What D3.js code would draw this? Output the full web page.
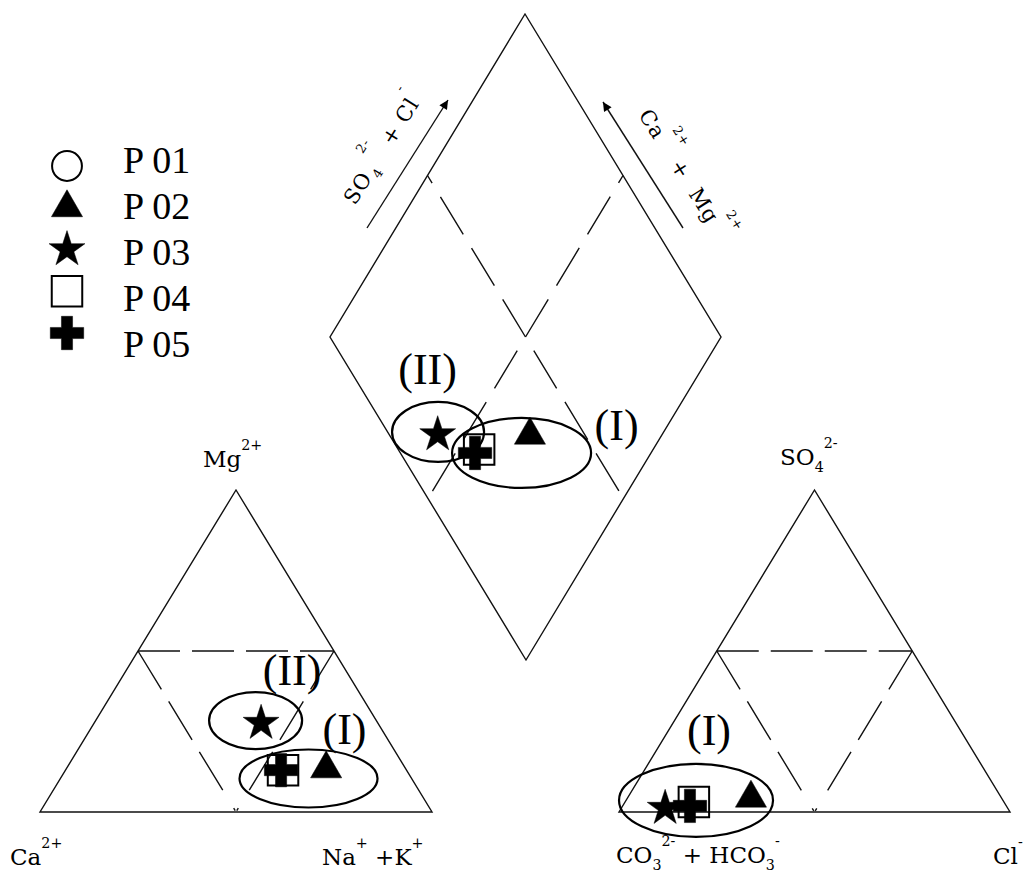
<!DOCTYPE html>
<meta charset="utf-8">
<script src="https://d3js.org/d3.v7.min.js"></script>
<style>
  body { margin: 0; background: #fff; }
  text { white-space: pre; }
</style>
<div id="chart"></div>
<script>

// samples, legend order
var samples = ["P 01", "P 02", "P 03", "P 04", "P 05"];
var symbolNames = ["circle", "triangle", "star", "square", "cross"];

// cations (% meq/l) - P 01 has no point on the figure
var caPct  = [null, 20.3, 29.8, 31.5, 32.0];
var mgPct  = [null, 13.4, 27.6, 13.0, 13.0];
var naKPct = [null, 66.3, 42.6, 55.5, 55.0];

// anions (% meq/l)
var hco3Pct = [null, 64.1, 87.6, 79.3, 80.9];
var so4Pct  = [null,  4.3,  1.2,  3.1,  1.9];
var clPct   = [null, 31.6, 11.2, 17.6, 17.2];

// circled groups: centre given in the panel's own percentages
// cation: (Na+K, Mg)   diamond: (SO4+Cl, Ca+Mg)   anion: (Cl, SO4)
var groupNames  = ["(II)", "(I)", "(II)", "(I)", "(I)"];
var groupPanels = ["cation", "cation", "diamond", "diamond", "anion"];
var groupU = [40.8, 63.3, 12.9, 31.0, 17.9];
var groupV = [28.4, 10.4, 57.7, 33.1, 3.6];

// ---- layout ----
var width = 1024, height = 875;
var svg = d3.select("#chart").append("svg")
    .attr("width", width).attr("height", height)
    .style("font-family", "'DejaVu Serif', serif");

var xCat = d3.scaleLinear().domain([0, 100]).range([40, 432]);
var xAn  = d3.scaleLinear().domain([0, 100]).range([619, 1010]);
var yTri = d3.scaleLinear().domain([0, 100]).range([812, 490]);

// diamond: from the bottom corner, SO4+Cl goes up-right, Ca+Mg goes up-left
var dBottom = [526, 660];
var dRight = d3.scaleLinear().domain([0, 100]).range([0, 195]);
var dLeft  = d3.scaleLinear().domain([0, 100]).range([0, 196]);
var dUp    = d3.scaleLinear().domain([0, 100]).range([0, 323]);

function catPos(naK, mg) { return [xCat(naK + mg / 2), yTri(mg)]; }
function anPos(cl, so4) { return [xAn(cl + so4 / 2), yTri(so4)]; }
function dmdPos(a, c) { return [dBottom[0] + dRight(a) - dLeft(c), dBottom[1] - dUp(a + c)]; }
var panelPos = { cation: catPos, anion: anPos, diamond: dmdPos };

var line = d3.line();
var edgeStyle = function(s) { return s.attr("fill", "none").attr("stroke", "#111").attr("stroke-width", 1.4); };
var dashStyle = function(s, dash) {
  return s.attr("fill", "none").attr("stroke", "#111").attr("stroke-width", 1.4).attr("stroke-dasharray", dash || "44,16");
};

// triangles
[catPos, anPos].forEach(function(P) {
  svg.append("path").attr("d", line([P(0, 0), P(100, 0), P(0, 100)]) + "Z").call(edgeStyle);
  svg.append("path").attr("d", line([P(0, 50), P(50, 50)])).call(dashStyle, "42,12");
  svg.append("path").attr("d", line([P(0, 50), P(50, 0)])).call(dashStyle, "45,14,45,14,45,21,3,40");
  svg.append("path").attr("d", line([P(50, 50), P(50, 0)])).call(dashStyle, "45,14,45,14,45,21,3,40");
});

// diamond
svg.append("path").attr("d", line([dmdPos(0, 0), dmdPos(100, 0), dmdPos(100, 100), dmdPos(0, 100)]) + "Z").call(edgeStyle);
svg.append("path").attr("d", line([dmdPos(50, 50), dmdPos(50, 100)])).call(dashStyle);
svg.append("path").attr("d", line([dmdPos(50, 50), dmdPos(100, 50)])).call(dashStyle);
svg.append("path").attr("d", line([dmdPos(50, 50), dmdPos(50, 0)])).call(dashStyle).attr("stroke-dashoffset", 44);
svg.append("path").attr("d", line([dmdPos(50, 50), dmdPos(0, 50)])).call(dashStyle).attr("stroke-dashoffset", 44);

// arrows beside the diamond
svg.append("defs").append("marker")
    .attr("id", "head").attr("viewBox", "0 0 10 10").attr("refX", 10).attr("refY", 5)
    .attr("markerWidth", 12).attr("markerHeight", 9).attr("markerUnits", "userSpaceOnUse")
    .attr("orient", "auto")
  .append("path").attr("d", "M0,0L10,5L0,10Z").attr("fill", "#000");
svg.append("line").attr("x1", 367).attr("y1", 228).attr("x2", 448).attr("y2", 100)
    .attr("stroke", "#111").attr("stroke-width", 1.4).attr("marker-end", "url(#head)");
svg.append("line").attr("x1", 683).attr("y1", 228).attr("x2", 603).attr("y2", 102)
    .attr("stroke", "#111").attr("stroke-width", 1.4).attr("marker-end", "url(#head)");

// text with sub / superscripts; part = [text, "sup"|"sub", dx]
function richText(sel, parts, size, supShift) {
  var t = sel.append("text").attr("font-size", size).attr("fill", "#000");
  var shift = 0;
  parts.forEach(function(p) {
    var s = p[1] === "sup" ? -supShift * size : p[1] === "sub" ? 0.3 * size : 0;
    t.append("tspan").attr("dy", s - shift).attr("dx", p[2] || 0)
      .attr("font-size", p[1] ? size * 0.62 : size).text(p[0]);
    shift = s;
  });
  return t;
}

var axisLabels = [
  { x: 203, y: 467, parts: [["Mg"], ["2+", "sup"]] },
  { x: 10, y: 865, parts: [["Ca"], ["2+", "sup"]] },
  { x: 322, y: 865, parts: [["Na"], ["+", "sup"], [" +K"], ["+", "sup"]] },
  { x: 780, y: 465, parts: [["SO"], ["4", "sub"], ["2-", "sup"]] },
  { x: 616, y: 863, parts: [["CO"], ["3", "sub"], ["2-", "sup"], [" + HCO"], ["3", "sub"], ["-", "sup"]] },
  { x: 993, y: 864, parts: [["Cl"], ["-", "sup"]] }
];
axisLabels.forEach(function(l) {
  richText(svg.append("g").attr("transform", "translate(" + l.x + "," + l.y + ")"), l.parts, 23, 0.72);
});

richText(svg.append("g").attr("transform", "translate(355,206) rotate(-57.7)"),
  [["SO"], ["4", "sub", 2], ["2-", "sup", 3], [" + Cl"], ["-", "sup"]], 21, 1.0)
  .attr("letter-spacing", 1);
richText(svg.append("g").attr("transform", "translate(638,115) rotate(57.6)"),
  [["Ca"], ["2+", "sup"], [" + "], [" Mg"], ["2+", "sup"]], 21, 1.0)
  .attr("letter-spacing", 1);

// symbols
var symType = { circle: d3.symbolCircle, triangle: d3.symbolTriangle, star: d3.symbolStar, square: d3.symbolSquare, cross: d3.symbolCross };
var symSize = { circle: 700, triangle: 420, star: 400, square: 930, cross: 620 };
function drawSymbol(sel, name) {
  var hollow = name === "circle" || name === "square";
  return sel.append("path")
    .attr("d", d3.symbol().type(symType[name]).size(symSize[name])())
    .attr("fill", hollow ? "none" : "#000")
    .attr("stroke", "#000").attr("stroke-width", hollow ? 2 : 0.5);
}

// group ellipses
var ellipseR = [[46.5, 28.5], [69, 29], [46, 30], [69.5, 35], [77, 36.5]];
var labelOff = [[36.5, -35.5], [36, -34.5], [-10.5, -48], [95, -13], [13, -55.5]];
groupNames.forEach(function(name, i) {
  var c = panelPos[groupPanels[i]](groupU[i], groupV[i]);
  svg.append("ellipse").attr("cx", c[0]).attr("cy", c[1])
    .attr("rx", ellipseR[i][0]).attr("ry", ellipseR[i][1])
    .attr("fill", "none").attr("stroke", "#000").attr("stroke-width", 2.2);
  svg.append("text").attr("x", c[0] + labelOff[i][0]).attr("y", c[1] + labelOff[i][1])
    .attr("text-anchor", "middle").attr("font-family", "'Liberation Serif', serif")
    .attr("font-size", 44).text(name);
});

// sample points in the three fields
samples.forEach(function(s, i) {
  if (caPct[i] == null) return;
  var pts = [
    catPos(naKPct[i], mgPct[i]),
    anPos(clPct[i], so4Pct[i]),
    dmdPos(so4Pct[i] + clPct[i], caPct[i] + mgPct[i])
  ];
  pts.forEach(function(p) {
    drawSymbol(svg.append("g").attr("transform", "translate(" + p[0] + "," + p[1] + ")"), symbolNames[i]);
  });
});

// legend
var legendY = d3.scaleLinear().domain([0, 4]).range([166, 333]);
var legendText = d3.scaleLinear().domain([0, 4]).range([173, 357]);
samples.forEach(function(s, i) {
  var g = svg.append("g").attr("transform", "translate(67," + legendY(i) + ")");
  drawSymbol(g, symbolNames[i]);
  svg.append("text").attr("x", 123).attr("y", legendText(i))
    .attr("font-family", "'Liberation Serif', serif").attr("font-size", 38).text(s);
});
</script>
